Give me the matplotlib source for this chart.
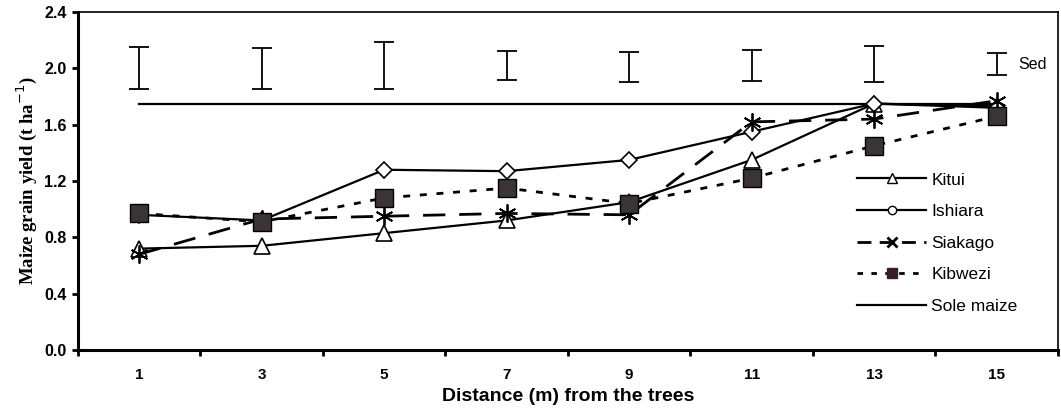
import numpy as np
import matplotlib.pyplot as plt
from matplotlib.lines import Line2D

distance = [1, 3, 5, 7, 9, 11, 13, 15]
kitui = [0.72, 0.74, 0.83, 0.92, 1.05, 1.35, 1.75, 1.73]
ishiara = [0.96, 0.92, 1.28, 1.27, 1.35, 1.55, 1.75, 1.72]
siakago = [0.68, 0.93, 0.95, 0.97, 0.96, 1.62, 1.64, 1.77]
kibwezi = [0.97, 0.91, 1.08, 1.15, 1.04, 1.22, 1.45, 1.66]
sole_maize = 1.75
sed_centre = [2.00, 2.00, 2.02, 2.02, 2.01, 2.02, 2.03, 2.03]
sed_half = [0.15, 0.145, 0.17, 0.10, 0.105, 0.11, 0.13, 0.08]
ytick_vals = [0.0, 0.4, 0.8, 1.2, 1.6, 2.0, 2.4]
ytick_text = ["0.0", "0.4", "0.8", "1.2", "1.6", "2.0", "2.4"]

fig = plt.figure(figsize=(10.61, 4.15), dpi=100)
ax = fig.add_axes([0.0735, 0.1566, 0.9235, 0.8144])

lw = 1.6
ax.plot(distance, [sole_maize] * len(distance), color="black", lw=lw, zorder=2)
ax.plot(distance, kitui, color="black", lw=lw, marker="^", ms=11,
        mfc="white", mec="black", mew=1.2, zorder=3)
ax.plot(distance, ishiara, color="black", lw=lw, marker="D", ms=8,
        mfc="white", mec="black", mew=1.2, zorder=3)
ax.plot(distance, siakago, color="black", lw=2, ls=(0, (8, 5)),
        marker=(6, 2, 0), ms=13, mec="black", mew=1.3, zorder=4)
ax.plot(distance, kibwezi, color="black", lw=2, ls=(0, (2.5, 3.5)),
        marker="s", ms=13, mfc="#3a3338", mec="black", mew=1, zorder=5)

# standard error of difference bars
ax.errorbar(distance, sed_centre, yerr=sed_half, fmt="none", ecolor="black",
            elinewidth=1.3, capsize=7, capthick=1.3)
ax.text(15.35, 2.03, "Sed", fontsize=11.5, family="Liberation Sans",
        va="center", ha="left")

ax.set_xlim(0, 16)
ax.set_ylim(0, 2.4)
ax.set_xticks(np.arange(0, 17, 2))
ax.set_xticklabels([])
ax.set_xticks(distance, minor=True)
ax.set_xticklabels([str(d) for d in distance], minor=True,
                   family="Liberation Sans", fontweight="bold", fontsize=11)
ax.tick_params(axis="x", which="minor", length=0, pad=13)
ax.tick_params(axis="x", which="major", length=4, width=2, direction="out")
ax.set_yticks(ytick_vals)
ax.set_yticklabels(ytick_text, family="Liberation Sans", fontweight="bold",
                   fontsize=11.5)
ax.tick_params(axis="y", length=4, width=2, direction="out", pad=4)

for side in ["left", "bottom"]:
    ax.spines[side].set_linewidth(2.2)
for side in ["top", "right"]:
    ax.spines[side].set_linewidth(1.2)

ax.set_xlabel("Distance (m) from the trees", family="Liberation Sans",
              fontweight="bold", fontsize=14, labelpad=4)
ax.set_ylabel("Maize grain yield (t ha$^{-1}$)", family="Liberation Serif",
              fontweight="bold", fontsize=13.5, labelpad=4)

handles = [
    Line2D([], [], color="black", lw=lw, marker="^", ms=7, mfc="white", mec="black"),
    Line2D([], [], color="black", lw=lw, marker="o", ms=6, mfc="white", mec="black"),
    Line2D([], [], color="black", lw=2, ls=(0, (5, 3)), marker="x", ms=7, mec="black", mew=2),
    Line2D([], [], color="black", lw=2, ls=(0, (2, 3)), marker="s", ms=7, mfc="#3a1f28", mec="#3a1f28"),
    Line2D([], [], color="black", lw=lw),
]
labels = ["Kitui", "Ishiara", "Siakago", "Kibwezi", "Sole maize"]
leg = ax.legend(handles, labels, loc="lower right", bbox_to_anchor=(0.975, 0.06),
                frameon=False, handlelength=4.0, handletextpad=0.3,
                labelspacing=0.95, prop={"family": "Liberation Sans", "size": 12.5})

fig.savefig("out.png", dpi=100)
